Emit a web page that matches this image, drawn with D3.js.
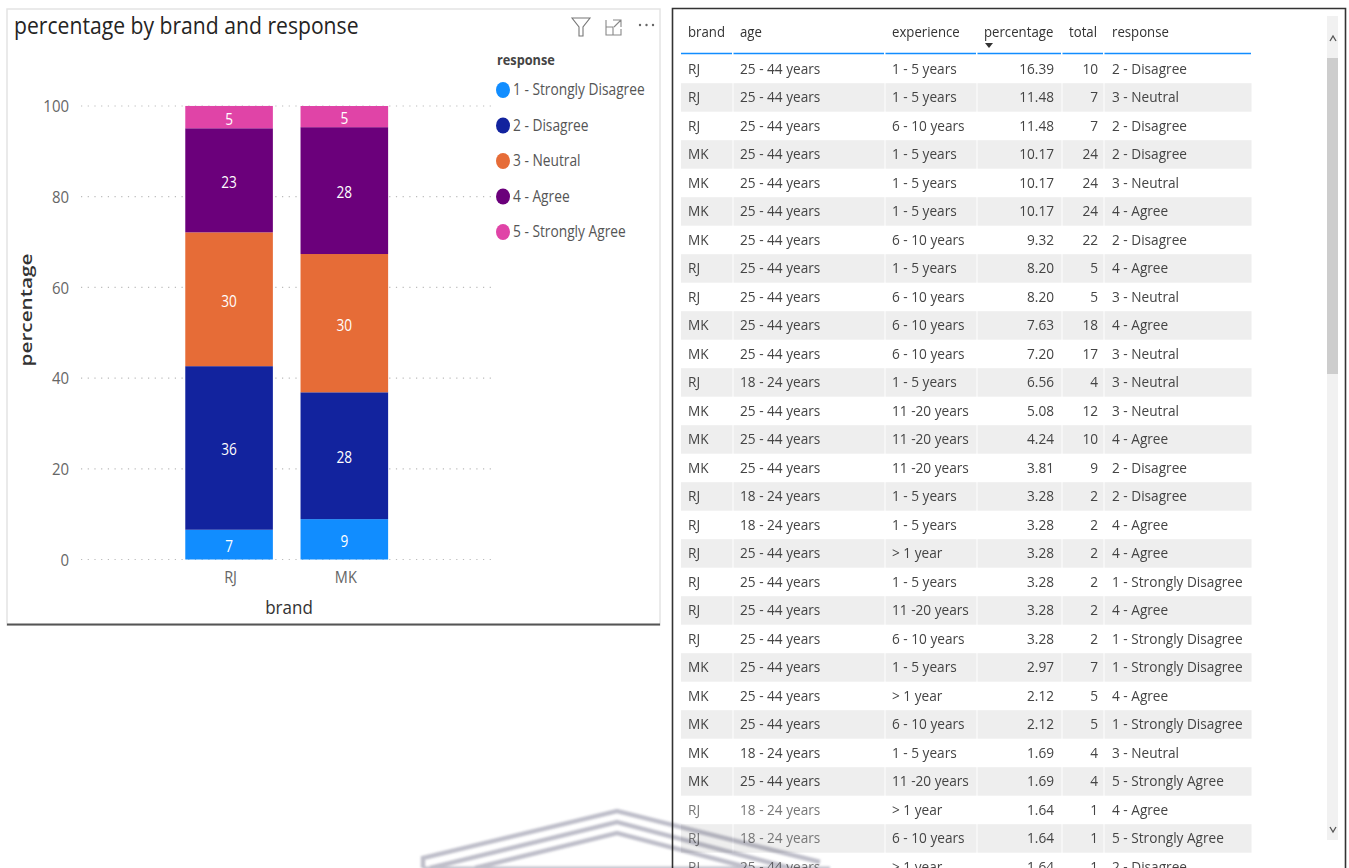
<!DOCTYPE html>
<html><head><meta charset="utf-8">
<script src="https://cdnjs.cloudflare.com/ajax/libs/d3/7.8.5/d3.min.js"></script>
<style>html,body{margin:0;padding:0;background:#fff;overflow:hidden}svg{display:block;filter:blur(.35px)}text{font-family:"Open Sans",sans-serif}</style>
</head><body><svg id="c" width="1349" height="868"></svg>
<script>
const brands = ["RJ","MK"];
const responses = ["1 - Strongly Disagree","2 - Disagree","3 - Neutral","4 - Agree","5 - Strongly Agree"];
const colors = ["#118DFF","#12239E","#E66C37","#6B007B","#E044A7"];
const rjValues = [6.56,36.07,29.51,22.95,4.92];
const mkValues = [8.90,27.97,30.49,27.97,4.67];
const yTicks = [0,20,40,60,80,100];
const tableColumns = ["brand","age","experience","percentage","total","response"];
const rowBrand = ["RJ","RJ","RJ","MK","MK","MK","MK","RJ","RJ","MK","MK","RJ","MK","MK","MK","RJ","RJ","RJ","RJ","RJ","RJ","MK","MK","MK","MK","MK","RJ","RJ","RJ"];
const rowAge = ["25 - 44 years","25 - 44 years","25 - 44 years","25 - 44 years","25 - 44 years","25 - 44 years","25 - 44 years","25 - 44 years","25 - 44 years","25 - 44 years","25 - 44 years","18 - 24 years","25 - 44 years","25 - 44 years","25 - 44 years","18 - 24 years","18 - 24 years","25 - 44 years","25 - 44 years","25 - 44 years","25 - 44 years","25 - 44 years","25 - 44 years","25 - 44 years","18 - 24 years","25 - 44 years","18 - 24 years","18 - 24 years","25 - 44 years"];
const rowExperience = ["1 - 5 years","1 - 5 years","6 - 10 years","1 - 5 years","1 - 5 years","1 - 5 years","6 - 10 years","1 - 5 years","6 - 10 years","6 - 10 years","6 - 10 years","1 - 5 years","11 -20 years","11 -20 years","11 -20 years","1 - 5 years","1 - 5 years","> 1 year","1 - 5 years","11 -20 years","6 - 10 years","1 - 5 years","> 1 year","6 - 10 years","1 - 5 years","11 -20 years","> 1 year","6 - 10 years","> 1 year"];
const rowPercentage = ["16.39","11.48","11.48","10.17","10.17","10.17","9.32","8.20","8.20","7.63","7.20","6.56","5.08","4.24","3.81","3.28","3.28","3.28","3.28","3.28","3.28","2.97","2.12","2.12","1.69","1.69","1.64","1.64","1.64"];
const rowTotal = [10,7,7,24,24,24,22,5,5,18,17,4,12,10,9,2,2,2,2,2,2,7,5,5,4,4,1,1,1];
const rowResponse = ["2 - Disagree","3 - Neutral","2 - Disagree","2 - Disagree","3 - Neutral","4 - Agree","2 - Disagree","4 - Agree","3 - Neutral","4 - Agree","3 - Neutral","3 - Neutral","3 - Neutral","4 - Agree","2 - Disagree","2 - Disagree","4 - Agree","4 - Agree","1 - Strongly Disagree","4 - Agree","1 - Strongly Disagree","1 - Strongly Disagree","4 - Agree","1 - Strongly Disagree","3 - Neutral","5 - Strongly Agree","4 - Agree","5 - Strongly Agree","2 - Disagree"];

const svg = d3.select("#c");
function T(g,x,y,s,size,fill,sx,anchor,weight){
  return g.append("text").attr("transform",`translate(${x},${y}) scale(${sx},1)`)
    .attr("font-size",size).attr("fill",fill).attr("text-anchor",anchor||"start")
    .attr("font-weight",weight||400).text(s);
}
// ---- left card
const card = svg.append("g");
card.append("rect").attr("x",7).attr("y",9).attr("width",653).attr("height",616).attr("fill","#fff").attr("stroke","#e4e4e4").attr("stroke-width",1.5);
card.append("line").attr("x1",7).attr("x2",660).attr("y1",624.5).attr("y2",624.5).attr("stroke","#555").attr("stroke-width",2);
T(card,14,34,"percentage by brand and response",23,"#252423",0.92,"start",500);

// icons
const ic = card.append("g").attr("fill","none").attr("stroke","#666").attr("stroke-width",1.1);
ic.append("path").attr("d","M572 18H590L583 27V36H579V27Z").attr("stroke","#777");
ic.append("path").attr("d","M606 20V35H621V29M606 27H613V35M613 20H621V27M621 20L614 27").attr("stroke","#888");
card.selectAll("circle.dot").data([0,1,2]).join("circle").attr("cx",d=>640+d*6.5).attr("cy",25).attr("r",1.2).attr("fill","#666");

// chart
const x = d3.scaleBand().domain(brands).range([150.7,422.7]).paddingInner(0.24).paddingOuter(0.3);
const y = d3.scaleLinear().domain([0,100]).range([559.5,106]);
const yAxis = d3.axisLeft(y).tickValues(yTicks).tickSize(0).tickPadding(0);
const yg = svg.append("g").attr("transform","translate(69,0)").call(yAxis);
yg.select(".domain").remove();
yg.selectAll("text").attr("font-size",17).attr("fill","#666").attr("transform","scale(0.88,1)").attr("x",0).attr("dy","0.34em");
svg.append("g").selectAll("line").data(yTicks).join("line")
  .attr("x1",81).attr("x2",493).attr("y1",d=>y(d)).attr("y2",d=>y(d))
  .attr("stroke","#bbb").attr("stroke-width",1.2).attr("stroke-dasharray","1.2 5.5");

const table = brands.map((b,i)=>{const o={brand:b};responses.forEach((r,j)=>o[r]=(i?mkValues:rjValues)[j]);return o;});
const stack = d3.stack().keys(responses)(table);
const sg = svg.append("g").selectAll("g").data(stack).join("g").attr("fill",(d,i)=>colors[i]);
sg.selectAll("rect").data(d=>d).join("rect")
  .attr("x",d=>x(d.data.brand)).attr("width",x.bandwidth())
  .attr("y",d=>y(d[1])).attr("height",d=>y(d[0])-y(d[1]));
stack.forEach(s=>s.forEach(d=>{
  T(svg,x(d.data.brand)+x.bandwidth()/2,(y(d[0])+y(d[1]))/2+7.5,d3.format(".0f")(d[1]-d[0]),15.5,"#fff",0.88,"middle");
}));
const xAxis = d3.axisBottom(x).tickSize(0).tickPadding(0);
const xg = svg.append("g").attr("transform","translate(1.5,570)").call(xAxis);
xg.select(".domain").remove();
xg.selectAll("text").attr("font-size",16.5).attr("fill","#666").attr("transform","scale(0.88,1)").attr("y",0).attr("dy","0.8em");
T(svg,289,614,"brand",18.5,"#333",0.92,"middle",500);
svg.append("text").attr("transform","translate(32,310) rotate(-90) scale(1.22,1)").attr("text-anchor","middle").attr("font-size",17).attr("fill","#333").attr("font-weight",600).text("percentage");

// legend
const lg = svg.append("g");
T(lg,497,65,"response",14.5,"#444",0.88,"start",700);
const ly = d3.scalePoint().domain(responses).range([90,232]);
responses.forEach((r,i)=>{
  lg.append("ellipse").attr("cx",503).attr("cy",ly(r)).attr("rx",7).attr("ry",8).attr("fill",colors[i]);
  T(lg,513,ly(r)+5,r,15.5,"#555",0.887);
});

// ---- right table
const tb = svg.append("g");
tb.append("path").attr("d","M672.5 868V8.5H1345.5V868").attr("fill","none").attr("stroke","#333").attr("stroke-width",1.6);
const colLeft = [681,733.5,885.5,977.5,1062.5,1104.5];
const colRight = [732,884,976,1061,1103,1251];
const colText = [688,740,892,1054,1098,1112];
const headText = [688,740,892,984,1069,1112];
const rowY = d3.scaleBand().domain(d3.range(rowBrand.length)).range([54.7,54.7+rowBrand.length*28.5]);
const clip = svg.append("clipPath").attr("id","tc").append("rect").attr("x",675).attr("y",10).attr("width",660).attr("height",858);
const body = tb.append("g").attr("clip-path","url(#tc)");
d3.range(rowBrand.length).filter(i=>i%2==1).forEach(i=>{
  colLeft.forEach((l,c)=>body.append("rect").attr("x",l).attr("width",colRight[c]-l+0.5).attr("y",rowY(i)).attr("height",rowY.bandwidth()).attr("fill","#eeeeee"));
});
tableColumns.forEach((c,i)=>{
  T(tb,headText[i],37,c,14.5,"#333",0.91);
  tb.append("line").attr("x1",colLeft[i]).attr("x2",colRight[i]).attr("y1",53.5).attr("y2",53.5).attr("stroke","#118DFF").attr("stroke-width",1.3);
});
tb.append("path").attr("d","M985 43H993L989 48Z").attr("fill","#333");
rowBrand.forEach((b,i)=>{
  const yy = rowY(i)+rowY.bandwidth()/2+5;
  [b,rowAge[i],rowExperience[i],rowPercentage[i],rowTotal[i],rowResponse[i]].forEach((v,c)=>{
    const faded = i>=26 && c<2;
    T(body,colText[c],yy,v,15,faded?"#777":"#444",0.91,(c==3||c==4)?"end":"start");
  });
});
// scrollbar
tb.append("rect").attr("x",1327).attr("y",16).attr("width",11).attr("height",824).attr("fill","#f1f1f1");
tb.append("rect").attr("x",1327).attr("y",58).attr("width",11).attr("height",316).attr("fill","#cdcdcd");
tb.append("path").attr("d","M1330 41L1333 36L1336 41").attr("fill","none").attr("stroke","#555").attr("stroke-width",1.3);
tb.append("path").attr("d","M1330 827L1333 832L1336 827").attr("fill","none").attr("stroke","#555").attr("stroke-width",1.3);

// watermark
svg.append("filter").attr("id","wb").append("feGaussianBlur").attr("stdDeviation",0.9);
const wm = svg.append("g").attr("fill","none").attr("stroke","#a9a9b8").attr("stroke-width",4.5).attr("opacity",.75).attr("filter","url(#wb)").style("mix-blend-mode","multiply");
wm.append("path").attr("d","M423 868V858L617 811L820 862");
wm.append("path").attr("d","M430 868L617 822L790 868");
wm.append("path").attr("d","M475 868L617 833L750 868");
wm.append("path").attr("d","M423 868H830").attr("stroke-width",3);
</script></body></html>
